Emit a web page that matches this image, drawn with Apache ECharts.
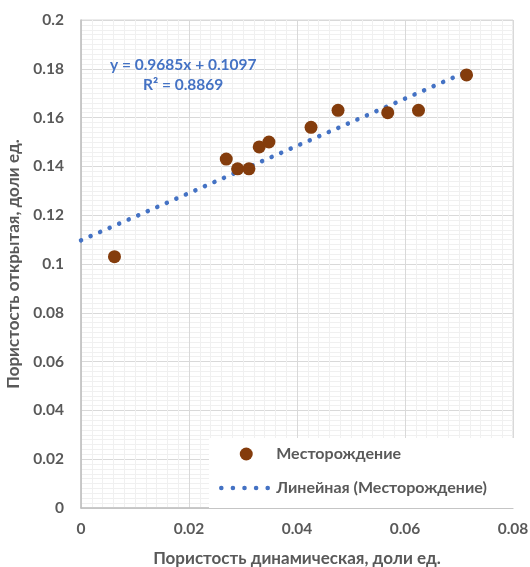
<!DOCTYPE html>
<html>
<head>
<meta charset="utf-8">
<script src="https://cdn.jsdelivr.net/npm/echarts@6/dist/echarts.min.js"></script>
<style>
  html, body { margin: 0; padding: 0; background: #fff; }
  #chart { width: 530px; height: 567px; }
</style>
</head>
<body>
<div id="chart"></div>
<script>
// porosity: dynamic (x) vs open (y)
var dynPorosity = [0.0062, 0.0269, 0.0290, 0.0311, 0.0330, 0.0348, 0.0426, 0.0476, 0.0568, 0.0625, 0.0714];
var openPorosity = [0.103, 0.143, 0.139, 0.139, 0.148, 0.150, 0.156, 0.163, 0.162, 0.163, 0.1775];
// trend line ends (Excel linear trendline, forecast back to 0)
var trendX = [0, 0.0714];
var trendY = [0.1097, 0.1788];
var eqText = 'y = 0.9685x + 0.1097';
var r2Text = 'R² = 0.8869';

var fieldPts = dynPorosity.map(function (x, i) { return [x, openPorosity[i]]; });
var trendPts = trendX.map(function (x, i) { return [x, trendY[i]]; });

var font = 'Lato';
var grey = '#595959';
var blue = '#4472C4';

var option = {
    animation: false,
    grid: {
        left: 81, right: 17, top: 20, bottom: 59,
        outerBoundsMode: 'none', containLabel: false,
        show: true, borderColor: '#d9d9d9', borderWidth: 1
    },
    xAxis: {
        type: 'value', min: 0, max: 0.08, interval: 0.02,
        name: 'Пористость динамическая, доли ед.',
        nameLocation: 'middle', nameGap: 42,
        nameTextStyle: { color: grey, fontWeight: 'bold', fontSize: 17, fontFamily: font },
        axisLine: { lineStyle: { color: '#bfbfbf', width: 1.5 } },
        axisTick: { show: false },
        axisLabel: { color: grey, fontWeight: 'bold', fontSize: 15.5, fontFamily: font, margin: 13 },
        splitLine: { lineStyle: { color: '#d9d9d9' } },
        minorTick: { show: false, splitNumber: 10 },
        minorSplitLine: { show: true, lineStyle: { color: '#f0f0f0' } }
    },
    yAxis: {
        type: 'value', min: 0, max: 0.2, interval: 0.02,
        name: 'Пористость открытая, доли ед.',
        nameLocation: 'middle', nameGap: 57,
        nameTextStyle: { color: grey, fontWeight: 'bold', fontSize: 17, fontFamily: font },
        axisLine: { show: true, lineStyle: { color: '#bfbfbf', width: 1.5 } },
        axisTick: { show: false },
        axisLabel: { color: grey, fontWeight: 'bold', fontSize: 15.5, fontFamily: font, margin: 17 },
        splitLine: { lineStyle: { color: '#d9d9d9' } },
        minorTick: { show: false, splitNumber: 10 },
        minorSplitLine: { show: true, lineStyle: { color: '#f0f0f0' } }
    },
    legend: {
        orient: 'vertical',
        left: 209, top: 438,
        width: 304, height: 70,
        padding: [8, 40, 12, 10],
        backgroundColor: '#fff',
        itemWidth: 50, itemHeight: 13, itemGap: 18,
        textStyle: { color: grey, fontWeight: 'bold', fontSize: 16, fontFamily: font },
        data: [
            { name: 'Месторождение' },
            {
                name: 'Линейная (Месторождение)',
                itemStyle: { color: 'rgba(0,0,0,0)', borderWidth: 0 },
                lineStyle: { color: blue, width: 4.5, type: [0.1, 11.5], cap: 'round' }
            }
        ]
    },
    graphic: [
        { type: 'text', z: 100, left: 110, top: 57, style: { text: eqText, fill: blue, fontWeight: 'bold', fontSize: 15.5, fontFamily: font } },
        { type: 'text', z: 100, left: 143, top: 77, style: { text: r2Text, fill: blue, fontWeight: 'bold', fontSize: 15.5, fontFamily: font } }
    ],
    series: [
        {
            name: 'Линейная (Месторождение)',
            type: 'line',
            data: trendPts,
            symbol: 'none',
            z: 2,
            lineStyle: { color: blue, width: 4.5, type: [0.1, 10.3], cap: 'round' },
            itemStyle: { color: blue }
        },
        {
            name: 'Месторождение',
            type: 'scatter',
            data: fieldPts,
            symbolSize: 13,
            z: 3,
            itemStyle: { color: '#843C0C', opacity: 1 }
        }
    ]
};

var myChart = echarts.init(document.getElementById('chart'));
myChart.setOption(option);
</script>
</body>
</html>
